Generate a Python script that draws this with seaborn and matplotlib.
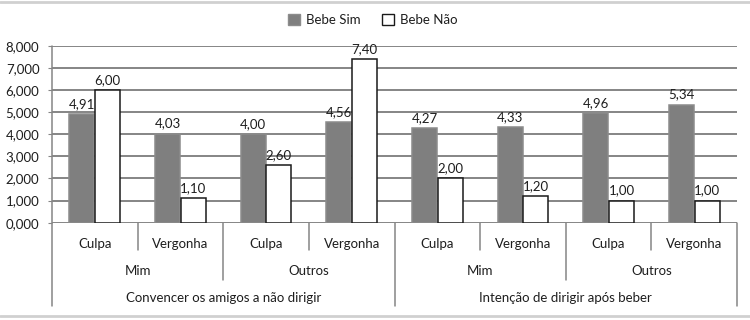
import matplotlib
matplotlib.use('Agg')
import matplotlib.pyplot as plt
import matplotlib.transforms as mtransforms
from matplotlib.lines import Line2D
import seaborn as sns
import pandas as pd

# data
grupos = ['Bebe Sim', 'Bebe Não']
emocao = ['Culpa', 'Vergonha', 'Culpa', 'Vergonha', 'Culpa', 'Vergonha', 'Culpa', 'Vergonha']
alvo = ['Mim', 'Outros', 'Mim', 'Outros']
medida = ['Convencer os amigos a não dirigir', 'Intenção de dirigir após beber']
bebe_sim = [4.91, 4.03, 4.00, 4.56, 4.27, 4.33, 4.96, 5.34]
bebe_nao = [6.00, 1.10, 2.60, 7.40, 2.00, 1.20, 1.00, 1.00]
yticks = [0, 1, 2, 3, 4, 5, 6, 7, 8]

df = pd.DataFrame({
    'cond': list(range(8)) * 2,
    'valor': bebe_sim + bebe_nao,
    'grupo': [grupos[0]] * 8 + [grupos[1]] * 8,
})

sns.set_style('white')
plt.rcParams['font.family'] = ['Lato', 'DejaVu Sans']
txt = '#1e1e1e'
fs = 9.5

fig = plt.figure(figsize=(7.5, 3.2), dpi=100)
ax = fig.add_axes([0.0693, 0.304, 0.9134, 0.553])

sns.barplot(data=df, x='cond', y='valor', hue='grupo', order=list(range(8)),
            palette=['#7f7f7f', 'white'], width=0.6, gap=0.03,
            legend=False, ax=ax, zorder=3)

edges = ['#8c8c8c', '#1a1a1a']
for cont, ec, vals in zip(ax.containers, edges, [bebe_sim, bebe_nao]):
    for p in cont:
        p.set_edgecolor(ec)
        p.set_linewidth(1.1)
    ax.bar_label(cont, labels=[f'{v:.2f}'.replace('.', ',') for v in vals],
                 padding=3, fontsize=fs, color=txt)

ax.set_ylim(0, 8)
ax.set_xlim(-0.5, 7.5)
ax.set_yticks(yticks)
ax.set_yticklabels([f'{v:.3f}'.replace('.', ',') for v in yticks], fontsize=fs, color=txt)
ax.yaxis.grid(True, color='#858585', linewidth=1.4, zorder=0)
ax.set_axisbelow(True)
ax.set_xticks([])
ax.set_xlabel('')
ax.set_ylabel('')
ax.tick_params(axis='y', length=3, color='#858585', pad=6, left=True)
for s in ['top', 'right', 'bottom', 'left']:
    ax.spines[s].set_visible(False)

# hierarchical x-axis labels
trans = mtransforms.blended_transform_factory(ax.transData, ax.transAxes)
lc = '#858585'
for i in range(9):
    x = i - 0.5
    if i % 4 == 0:
        y0 = -0.47
    elif i % 2 == 0:
        y0 = -0.325
    else:
        y0 = -0.155
    top = 1.0 if i == 0 else 0.0
    ax.plot([x, x], [y0, top], transform=trans, color=lc, lw=1.1, clip_on=False)
for i, e in enumerate(emocao):
    ax.text(i, -0.12, e, transform=trans, ha='center', va='center', fontsize=fs, color=txt)
for j, a in enumerate(alvo):
    ax.text(2 * j + 0.5, -0.273, a, transform=trans, ha='center', va='center', fontsize=fs, color=txt)
for k, m in enumerate(medida):
    ax.text(4 * k + 1.5, -0.425, m, transform=trans, ha='center', va='center', fontsize=fs, color=txt)

# legend
handles = [plt.Rectangle((0, 0), 1, 1, facecolor='#7f7f7f', edgecolor='#8c8c8c'),
           plt.Rectangle((0, 0), 1, 1, facecolor='white', edgecolor='#1a1a1a')]
leg = fig.legend(handles, grupos, loc='center', bbox_to_anchor=(0.497, 0.937), ncol=2,
                 frameon=False, fontsize=fs, handlelength=0.9, handleheight=0.9,
                 handletextpad=0.5, columnspacing=1.6)
for t in leg.get_texts():
    t.set_color(txt)

# thin frame lines at top and bottom of the figure
fig.add_artist(Line2D([0, 1], [0.995, 0.995], color='#d0d0d0', lw=2))
fig.add_artist(Line2D([0, 1], [0.012, 0.012], color='#d0d0d0', lw=2))

fig.savefig('out.png', dpi=100)
